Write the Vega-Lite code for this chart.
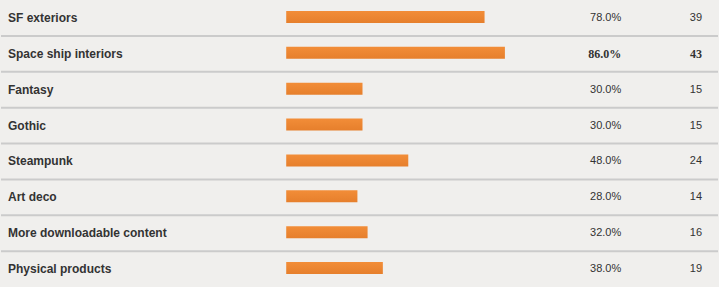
{
  "$schema": "https://vega.github.io/schema/vega-lite/v6.json",
  "autosize": {"type": "fit", "contains": "padding"},
  "width": 719,
  "height": 287,
  "padding": 0,
  "background": "#f0efed",
  "config": {"view": {"stroke": null}},
  "data": {
    "values": [
      {"label": "SF exteriors", "share": 0.78, "count": 39},
      {"label": "Space ship interiors", "share": 0.86, "count": 43},
      {"label": "Fantasy", "share": 0.30, "count": 15},
      {"label": "Gothic", "share": 0.30, "count": 15},
      {"label": "Steampunk", "share": 0.48, "count": 24},
      {"label": "Art deco", "share": 0.28, "count": 14},
      {"label": "More downloadable content", "share": 0.32, "count": 16},
      {"label": "Physical products", "share": 0.38, "count": 19}
    ]
  },
  "layer": [
    {
      "transform": [{"filter": "datum.label !== 'SF exteriors'"}],
      "mark": {"type": "rule", "stroke": "#cbcbcb", "strokeWidth": 2},
      "encoding": {
        "y": {"field": "label", "type": "nominal", "bandPosition": 0,
              "sort": ["SF exteriors", "Space ship interiors", "Fantasy", "Gothic", "Steampunk", "Art deco", "More downloadable content", "Physical products"],
              "axis": null, "scale": {"type": "band", "paddingInner": 0, "paddingOuter": 0}},
        "x": {"datum": -1.1216, "type": "quantitative", "axis": null,
              "scale": {"domain": [-1.1216, 1.698], "nice": false, "zero": false}},
        "x2": {"datum": 1.698}
      }
    },
    {
      "mark": {
        "type": "bar",
        "height": 12,
        "yOffset": -1,
        "color": {
          "gradient": "linear",
          "x1": 0, "y1": 0, "x2": 0, "y2": 1,
          "stops": [
            {"offset": 0, "color": "#f28d38"},
            {"offset": 1, "color": "#e67f2c"}
          ]
        }
      },
      "encoding": {
        "y": {"field": "label", "type": "nominal",
              "sort": ["SF exteriors", "Space ship interiors", "Fantasy", "Gothic", "Steampunk", "Art deco", "More downloadable content", "Physical products"]},
        "x": {"field": "share", "type": "quantitative"},
        "x2": {"datum": 0}
      }
    },
    {
      "mark": {
        "type": "text",
        "align": "left",
        "baseline": "middle",
        "font": "Liberation Sans",
        "fontSize": 12,
        "fontWeight": "bold",
        "fill": "#333333"
      },
      "encoding": {
        "y": {"field": "label", "type": "nominal",
              "sort": ["SF exteriors", "Space ship interiors", "Fantasy", "Gothic", "Steampunk", "Art deco", "More downloadable content", "Physical products"]},
        "x": {"datum": -1.0941, "type": "quantitative"},
        "text": {"field": "label", "type": "nominal"}
      }
    },
    {
      "transform": [
        {"joinaggregate": [{"op": "max", "field": "count", "as": "topCount"}]},
        {"filter": "datum.count < datum.topCount"}
      ],
      "mark": {
        "type": "text",
        "align": "right",
        "baseline": "middle",
        "font": "Liberation Sans",
        "fontSize": 11,
        "fill": "#333333"
      },
      "encoding": {
        "y": {"field": "label", "type": "nominal",
              "sort": ["SF exteriors", "Space ship interiors", "Fantasy", "Gothic", "Steampunk", "Art deco", "More downloadable content", "Physical products"]},
        "x": {"datum": 1.3176, "type": "quantitative"},
        "text": {"field": "share", "type": "quantitative", "format": ".1%"}
      }
    },
    {
      "transform": [
        {"joinaggregate": [{"op": "max", "field": "count", "as": "topCount"}]},
        {"filter": "datum.count < datum.topCount"}
      ],
      "mark": {
        "type": "text",
        "align": "right",
        "baseline": "middle",
        "font": "Liberation Sans",
        "fontSize": 11,
        "fill": "#333333"
      },
      "encoding": {
        "y": {"field": "label", "type": "nominal",
              "sort": ["SF exteriors", "Space ship interiors", "Fantasy", "Gothic", "Steampunk", "Art deco", "More downloadable content", "Physical products"]},
        "x": {"datum": 1.6353, "type": "quantitative"},
        "text": {"field": "count", "type": "quantitative"}
      }
    },
    {
      "transform": [
        {"joinaggregate": [{"op": "max", "field": "count", "as": "topCount"}]},
        {"filter": "datum.count === datum.topCount"}
      ],
      "mark": {
        "type": "text",
        "align": "right",
        "baseline": "middle",
        "font": "Liberation Serif",
        "fontSize": 12,
        "fontWeight": "bold",
        "fill": "#333333"
      },
      "encoding": {
        "y": {"field": "label", "type": "nominal",
              "sort": ["SF exteriors", "Space ship interiors", "Fantasy", "Gothic", "Steampunk", "Art deco", "More downloadable content", "Physical products"]},
        "x": {"datum": 1.3176, "type": "quantitative"},
        "text": {"field": "share", "type": "quantitative", "format": ".1%"}
      }
    },
    {
      "transform": [
        {"joinaggregate": [{"op": "max", "field": "count", "as": "topCount"}]},
        {"filter": "datum.count === datum.topCount"}
      ],
      "mark": {
        "type": "text",
        "align": "right",
        "baseline": "middle",
        "font": "Liberation Serif",
        "fontSize": 12,
        "fontWeight": "bold",
        "fill": "#333333"
      },
      "encoding": {
        "y": {"field": "label", "type": "nominal",
              "sort": ["SF exteriors", "Space ship interiors", "Fantasy", "Gothic", "Steampunk", "Art deco", "More downloadable content", "Physical products"]},
        "x": {"datum": 1.6353, "type": "quantitative"},
        "text": {"field": "count", "type": "quantitative"}
      }
    }
  ]
}
